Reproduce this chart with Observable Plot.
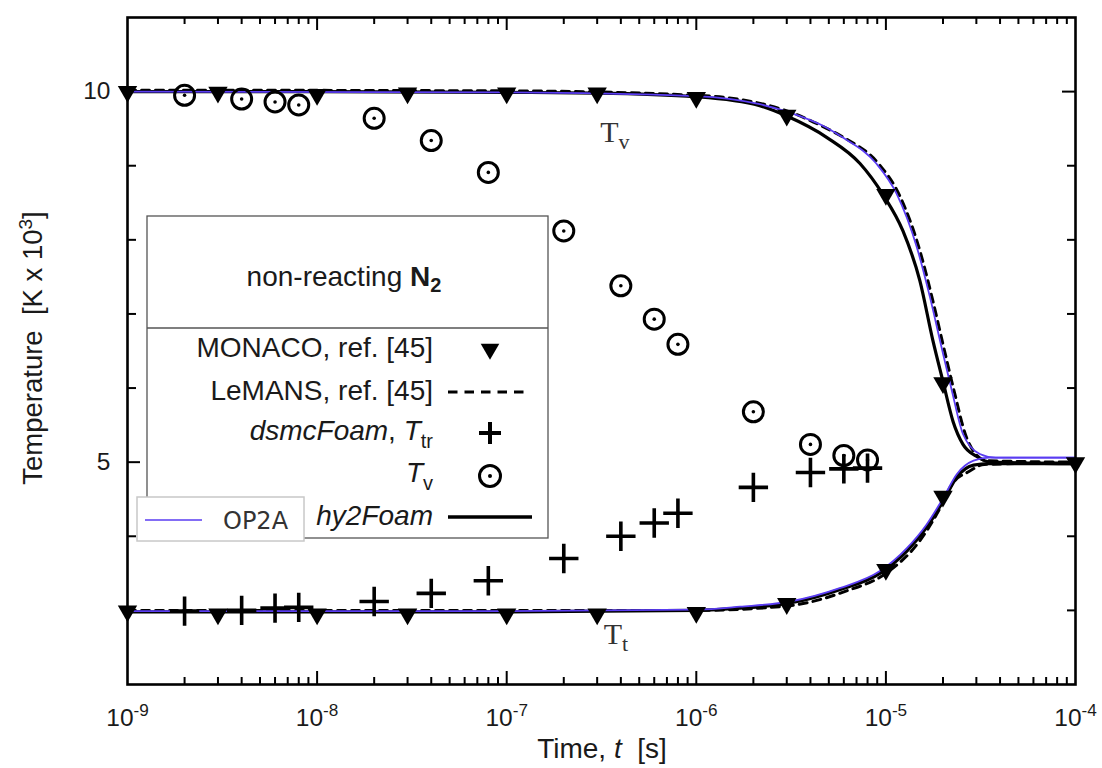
<!DOCTYPE html>
<html><head><meta charset="utf-8">
<script src="https://cdn.jsdelivr.net/npm/d3@7"></script>
<script src="https://cdn.jsdelivr.net/npm/@observablehq/plot@0.6"></script>
<style>
body{margin:0;background:#fff;}
#chart{position:relative;width:1102px;height:768px;}
text{white-space:pre;}
</style></head><body><div id="chart"></div>
<script>
// ---- MONACO (ref. [45]) markers ----
const monacoTvTime = [1e-9, 3e-9, 1e-8, 3e-8, 1e-7, 3e-7, 1e-6, 3e-6, 1e-5, 2e-5, 1e-4];
const monacoTv     = [10.0, 9.99, 9.96, 9.98, 9.98, 9.98, 9.92, 9.68, 8.61, 6.07, 4.99];
const monacoTtTime = [1e-9, 3e-9, 1e-8, 3e-8, 1e-7, 3e-7, 1e-6, 3e-6, 1e-5, 2e-5];
const monacoTt     = [2.99, 2.95, 2.95, 2.95, 2.95, 2.95, 2.97, 3.09, 3.55, 4.54];

// ---- dsmcFoam markers ----
const dsmcTime = [2e-9, 4e-9, 6e-9, 8e-9, 2e-8, 4e-8, 8e-8, 2e-7, 4e-7, 6e-7, 8e-7, 2e-6, 4e-6, 6e-6, 8e-6];
const dsmcTtr  = [2.99, 3.0, 3.03, 3.04, 3.12, 3.23, 3.40, 3.70, 4.0, 4.18, 4.31, 4.66, 4.86, 4.91, 4.92];
const dsmcTv   = [9.95, 9.9, 9.86, 9.82, 9.64, 9.34, 8.91, 8.12, 7.38, 6.93, 6.59, 5.68, 5.24, 5.09, 5.03];

// ---- hy2Foam (solid black) ----
const hy2TvTime = [1e-9, 1e-8, 1e-7, 3e-7, 1e-6, 2.16e-6, 3e-6, 4.89e-6, 7.3e-6, 9.6e-6, 1.23e-5, 1.51e-5, 1.77e-5, 2e-5, 2.26e-5, 2.55e-5, 3e-5, 3.6e-5, 1e-4];
const hy2Tv     = [10.0, 10.0, 9.99, 9.98, 9.93, 9.81, 9.67, 9.38, 9.03, 8.62, 8.12, 7.45, 6.64, 6.09, 5.55, 5.24, 5.08, 5.0, 4.98];
const hy2TtTime = [1e-9, 1e-7, 1e-6, 1.7e-6, 3.12e-6, 5.7e-6, 9.3e-6, 1.29e-5, 1.64e-5, 2e-5, 2.37e-5, 2.9e-5, 3.5e-5, 1e-4];
const hy2Tt     = [2.98, 2.98, 3.0, 3.03, 3.1, 3.28, 3.5, 3.8, 4.12, 4.47, 4.8, 4.96, 4.98, 4.98];

// ---- LeMANS (dashed black) ----
const lemTvTime = [1e-9, 1e-7, 1e-6, 3e-6, 4.9e-6, 6.1e-6, 9.2e-6, 1.18e-5, 1.5e-5, 1.76e-5, 2.03e-5, 2.3e-5, 2.63e-5, 3e-5, 3.4e-5, 1e-4];
const lemTv     = [10.02, 10.01, 9.95, 9.74, 9.5, 9.37, 9.02, 8.6, 7.88, 7.2, 6.52, 5.94, 5.37, 5.1, 5.02, 5.0];
const lemTtTime = [1e-9, 1e-7, 1e-6, 3e-6, 6e-6, 1.04e-5, 1.5e-5, 1.93e-5, 2.23e-5, 2.77e-5, 3.3e-5, 1e-4];
const lemTt     = [3.0, 3.0, 3.0, 3.06, 3.25, 3.53, 3.93, 4.38, 4.70, 4.88, 4.97, 4.99];

// ---- OP2A (blue) ----
const op2TvTime = [1e-9, 1e-7, 1e-6, 2.16e-6, 3e-6, 4.9e-6, 5.93e-6, 8.9e-6, 1.14e-5, 1.46e-5, 1.71e-5, 1.97e-5, 2.23e-5, 2.55e-5, 3.13e-5, 3.8e-5, 1e-4];
const op2Tv     = [10.0, 9.99, 9.94, 9.83, 9.73, 9.51, 9.38, 9.03, 8.62, 7.89, 7.22, 6.54, 5.96, 5.38, 5.11, 5.06, 5.06];
const op2TtTime = [1e-9, 1e-7, 1e-6, 1.7e-6, 3.12e-6, 5.7e-6, 9.3e-6, 1.29e-5, 1.64e-5, 2e-5, 2.37e-5, 2.9e-5, 3.5e-5, 1e-4];
const op2Tt     = [2.99, 2.99, 3.01, 3.05, 3.12, 3.30, 3.53, 3.84, 4.16, 4.51, 4.84, 5.02, 5.06, 5.06];

// ---- ticks ----
const xTickLabels = [1e-9, 1e-8, 1e-7, 1e-6, 1e-5, 1e-4];
const xMajor = [1e-8, 1e-7, 1e-6, 1e-5];
const xMinor = [];
for (const dec of [1e-9, 1e-8, 1e-7, 1e-6, 1e-5]) for (let m = 2; m <= 9; m++) xMinor.push(m * dec);
const yTickLabels = [5, 10];
const yMinor = [3, 4, 6, 7, 8, 9];

const toRows = (ts, vs, z) => ts.map((t, i) => ({t, v: vs[i], z}));
const monaco = [...toRows(monacoTvTime, monacoTv, "Tv"), ...toRows(monacoTtTime, monacoTt, "Tt")];
const plus = toRows(dsmcTime, dsmcTtr, "Ttr");
const circ = toRows(dsmcTime, dsmcTv, "Tv");
const hy2 = [...toRows(hy2TvTime, hy2Tv, "Tv"), ...toRows(hy2TtTime, hy2Tt, "Tt")];
const lem = [...toRows(lemTvTime, lemTv, "Tv"), ...toRows(lemTtTime, lemTt, "Tt")];
const op2 = [...toRows(op2TvTime, op2Tv, "Tv"), ...toRows(op2TtTime, op2Tt, "Tt")];

const W = 1102, H = 768, ML = 127, MR = 27, MT = 17, MB = 84;
const PH = H - MT - MB, PW = W - ML - MR;
const FONT = "'Liberation Sans', Arial, sans-serif";
const BLUE = "#5a3cf2";

const svg = Plot.plot({
  width: W, height: H,
  marginLeft: ML, marginRight: MR, marginTop: MT, marginBottom: MB,
  style: {fontFamily: FONT, fontSize: "24px", color: "#1a1a1a", background: "white", overflow: "visible"},
  x: {type: "log", domain: [1e-9, 1e-4]},
  y: {domain: [2, 11]},
  marks: [
    // inward ticks
    Plot.tickX(xMajor, {x: d => d, insetTop: PH - 13, stroke: "black", strokeWidth: 2}),
    Plot.tickX(xMajor, {x: d => d, insetBottom: PH - 13, stroke: "black", strokeWidth: 2}),
    Plot.tickX(xMinor, {x: d => d, insetTop: PH - 7, stroke: "black", strokeWidth: 2}),
    Plot.tickX(xMinor, {x: d => d, insetBottom: PH - 7, stroke: "black", strokeWidth: 2}),
    Plot.tickY(yTickLabels, {y: d => d, insetRight: PW - 13, stroke: "black", strokeWidth: 2}),
    Plot.tickY(yTickLabels, {y: d => d, insetLeft: PW - 13, stroke: "black", strokeWidth: 2}),
    Plot.tickY(yMinor, {y: d => d, insetRight: PW - 9, stroke: "black", strokeWidth: 2}),
    Plot.tickY(yMinor, {y: d => d, insetLeft: PW - 8, stroke: "black", strokeWidth: 2}),
    Plot.axisX(xTickLabels, {anchor: "bottom", tickSize: 0, tickPadding: 24, fontSize: 24.5, label: null,
      tickFormat: d => "10^" + Math.round(Math.log10(d))}),
    Plot.axisY(yTickLabels, {anchor: "left", tickSize: 0, tickPadding: 17, fontSize: 24.5, label: null,
      tickFormat: d => String(d)}),
    // curves
    Plot.line(hy2, {x: "t", y: "v", z: "z", stroke: "black", strokeWidth: 3.2, curve: "monotone-x"}),
    Plot.line(lem, {x: "t", y: "v", z: "z", stroke: "black", strokeWidth: 3, strokeDasharray: "8,6", curve: "monotone-x"}),
    Plot.line(op2, {x: "t", y: "v", z: "z", stroke: BLUE, strokeWidth: 1.8, curve: "monotone-x"}),
    // markers
    Plot.dot(circ, {x: "t", y: "v", r: 10, stroke: "black", strokeWidth: 3, fill: "none"}),
    Plot.dot(circ, {x: "t", y: "v", r: 1.8, fill: "black", stroke: "none"}),
    Plot.dot(plus, {x: "t", y: "v", symbol: "plus", r: 9.5, stroke: "black", strokeWidth: 3.6}),
    Plot.dot(monaco, {x: "t", y: "v", symbol: "triangle", rotate: 180, r: 7.2, fill: "black", stroke: "none"}),
    Plot.frame({stroke: "black", strokeWidth: 2.6})
  ]
});
document.getElementById("chart").append(svg);

// superscript exponents on x tick labels
d3.select(svg).selectAll('[aria-label="x-axis tick label"] text').each(function() {
  const s = this.textContent;
  const exp = s.split("^")[1];
  const t = d3.select(this).text(null);
  t.append("tspan").text("10");
  t.append("tspan").attr("dy", "-0.55em").attr("font-size", "0.7em").text(exp);
});

const sx = svg.scale("x"), sy = svg.scale("y");
const root = d3.select(svg).append("g").attr("font-family", FONT).attr("fill", "#1a1a1a").attr("text-anchor", "start");

// curve annotations
const annTime = [3.13e-7, 3.27e-7];
const annVal = [9.31, 2.54];
const annSub = ["v", "t"];
annTime.forEach((t, i) => {
  const tx = root.append("text").attr("x", sx.apply(t)).attr("y", sy.apply(annVal[i]))
    .attr("font-family", "'Liberation Serif', 'Times New Roman', serif").attr("font-size", 30).attr("fill", "#333");
  tx.append("tspan").text("T");
  tx.append("tspan").attr("dy", 7).attr("font-size", 22).text(annSub[i]);
});

// axis titles
const yt = root.append("text").attr("transform", "translate(42,348) rotate(-90)").attr("text-anchor", "middle").attr("font-size", 27.5);
yt.append("tspan").text("Temperature  [K x 10");
yt.append("tspan").attr("dy", -10).attr("font-size", 19).text("3");
yt.append("tspan").attr("dy", 10).text("]");
const xt = root.append("text").attr("x", 602).attr("y", 758).attr("text-anchor", "middle").attr("font-size", 28);
xt.append("tspan").text("Time, ");
xt.append("tspan").attr("font-style", "italic").text("t");
xt.append("tspan").text("  [s]");

// legend
const lg = root.append("g");
lg.append("rect").attr("x", 147).attr("y", 216).attr("width", 401).attr("height", 322)
  .attr("fill", "white").attr("stroke", "#555").attr("stroke-width", 1.3);
lg.append("line").attr("x1", 147).attr("x2", 548).attr("y1", 328).attr("y2", 328).attr("stroke", "#555").attr("stroke-width", 1.3);
const ttl = lg.append("text").attr("x", 344).attr("y", 286).attr("text-anchor", "middle").attr("font-size", 28);
ttl.append("tspan").text("non-reacting ");
ttl.append("tspan").attr("font-weight", "bold").text("N");
ttl.append("tspan").attr("font-weight", "bold").attr("font-size", 20).attr("dy", 6).text("2");

const TX = 433, SX = 490, FS = 28;
lg.append("text").attr("x", TX).attr("y", 357).attr("text-anchor", "end").attr("font-size", FS).text("MONACO, ref. [45]");
lg.append("text").attr("x", TX).attr("y", 400).attr("text-anchor", "end").attr("font-size", FS).text("LeMANS, ref. [45]");
const e3 = lg.append("text").attr("x", TX).attr("y", 440).attr("text-anchor", "end").attr("font-size", FS);
e3.append("tspan").attr("font-style", "italic").text("dsmcFoam");
e3.append("tspan").text(", ");
e3.append("tspan").attr("font-style", "italic").text("T");
e3.append("tspan").attr("dy", 8).attr("font-size", 20).text("tr");
const e4 = lg.append("text").attr("x", TX).attr("y", 482).attr("text-anchor", "end").attr("font-size", FS);
e4.append("tspan").attr("font-style", "italic").text("T");
e4.append("tspan").attr("dy", 8).attr("font-size", 20).text("v");
lg.append("text").attr("x", TX).attr("y", 525).attr("text-anchor", "end").attr("font-size", FS)
  .attr("font-style", "italic").text("hy2Foam");

lg.append("path").attr("d", d3.symbol(d3.symbolTriangle, 150)()).attr("transform", `translate(${SX},349) rotate(180)`).attr("fill", "black");
lg.append("line").attr("x1", 448).attr("x2", 527).attr("y1", 392).attr("y2", 392).attr("stroke", "black").attr("stroke-width", 3).attr("stroke-dasharray", "9.5,7");
lg.append("path").attr("d", `M${SX - 11},433H${SX + 11}M${SX},422V444`).attr("stroke", "black").attr("stroke-width", 4).attr("fill", "none");
lg.append("circle").attr("cx", SX).attr("cy", 476).attr("r", 10.5).attr("stroke", "black").attr("stroke-width", 3).attr("fill", "none");
lg.append("circle").attr("cx", SX).attr("cy", 476).attr("r", 2).attr("fill", "black");
lg.append("line").attr("x1", 448).attr("x2", 532).attr("y1", 517).attr("y2", 517).attr("stroke", "black").attr("stroke-width", 3.5);

// OP2A legend box
const ob = root.append("g");
ob.append("rect").attr("x", 137).attr("y", 497).attr("width", 167).attr("height", 44)
  .attr("fill", "white").attr("stroke", "#c8c8c8").attr("stroke-width", 1.5);
ob.append("line").attr("x1", 145).attr("x2", 202).attr("y1", 520).attr("y2", 520).attr("stroke", BLUE).attr("stroke-width", 1.6);
ob.append("text").attr("x", 223).attr("y", 529).attr("font-family", "'DejaVu Sans', sans-serif").attr("font-size", 24).attr("fill", "#333").text("OP2A");
</script>
</body></html>
